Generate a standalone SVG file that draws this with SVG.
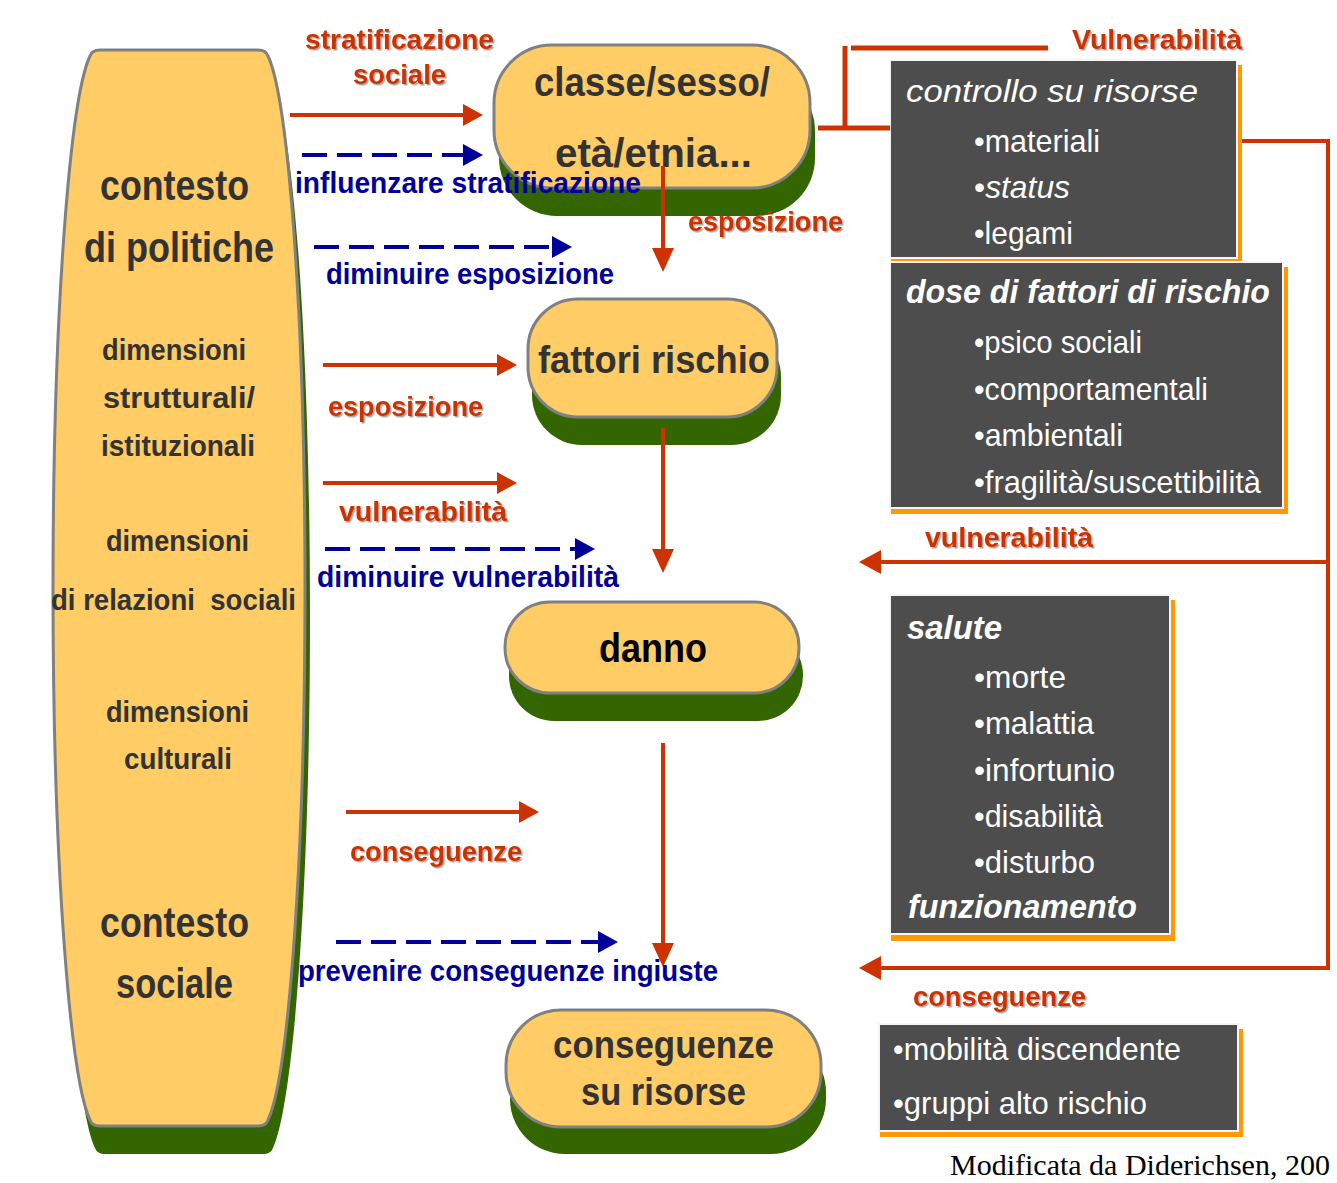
<svg xmlns="http://www.w3.org/2000/svg" width="1337" height="1183" viewBox="0 0 1337 1183">
<style>
text{font-family:"Liberation Sans",Arial,sans-serif}
.nt{font-weight:bold;fill:#333333}
.rl{font-weight:bold;fill:#CC3300;font-size:28px;filter:url(#sh)}
.bl{font-weight:bold;fill:#000099;font-size:29px}
.bx{fill:#ffffff;font-size:32px}
.bh{fill:#ffffff;font-size:33px;font-weight:bold;font-style:italic}
.node{fill:#FFCC66;stroke:#808080;stroke-width:3}
.shd{fill:#336600}
.rline{stroke:#CC3300;stroke-width:4;fill:none}
.bline{stroke:#000099;stroke-width:4;fill:none;stroke-dasharray:25 10}
.brk{stroke:#CC3300;stroke-width:5;fill:none}
.dark{fill:#4d4d4d}
.lite{fill:#f4f4f4}
.org{fill:#FF9900}
</style>
<defs>
<filter id="sh" x="-5%" y="-20%" width="115%" height="150%">
<feDropShadow dx="1.5" dy="1.5" stdDeviation="0.6" flood-color="#000" flood-opacity="0.35"/>
</filter>
<marker id="ar" markerUnits="userSpaceOnUse" markerWidth="20" markerHeight="22" refX="2" refY="11" orient="auto"><path d="M0,0 L20,11 L0,22 Z" fill="#CC3300"/></marker>
<marker id="ab" markerUnits="userSpaceOnUse" markerWidth="20" markerHeight="22" refX="2" refY="11" orient="auto"><path d="M0,0 L20,11 L0,22 Z" fill="#000099"/></marker>
<marker id="av" markerUnits="userSpaceOnUse" markerWidth="24" markerHeight="22" refX="2" refY="11" orient="auto"><path d="M0,0 L24,11 L0,22 Z" fill="#CC3300"/></marker>
<marker id="al" markerUnits="userSpaceOnUse" markerWidth="22" markerHeight="24" refX="2" refY="12" orient="auto"><path d="M0,0 L22,12 L0,24 Z" fill="#CC3300"/></marker>
</defs>
<rect width="1337" height="1183" fill="#ffffff"/>

<g id="contesto">
<path class="shd" transform="translate(5,28)" d="M 100,50 L 258,50 Q 266,50 268,56 C 287,96 305,300 305,588 C 305,876 287,1080 268,1120 Q 266,1126 258,1126 L 100,1126 Q 92,1126 90,1120 C 71,1080 53,876 53,588 C 53,300 71,96 90,56 Q 92,50 100,50 Z"/>
<path class="node" d="M 100,50 L 258,50 Q 266,50 268,56 C 287,96 305,300 305,588 C 305,876 287,1080 268,1120 Q 266,1126 258,1126 L 100,1126 Q 92,1126 90,1120 C 71,1080 53,876 53,588 C 53,300 71,96 90,56 Q 92,50 100,50 Z"/>
<text class="nt" x="100" y="200" font-size="42" textLength="149" lengthAdjust="spacingAndGlyphs">contesto</text>
<text class="nt" x="84" y="262" font-size="42" textLength="190" lengthAdjust="spacingAndGlyphs">di politiche</text>
<text class="nt" x="102" y="360" font-size="29" textLength="144" lengthAdjust="spacingAndGlyphs">dimensioni</text>
<text class="nt" x="103" y="408" font-size="29" textLength="152" lengthAdjust="spacingAndGlyphs">strutturali/</text>
<text class="nt" x="101" y="456" font-size="29" textLength="154" lengthAdjust="spacingAndGlyphs">istituzionali</text>
<text class="nt" x="106" y="551" font-size="29" textLength="143" lengthAdjust="spacingAndGlyphs">dimensioni</text>
<text class="nt" x="51" y="610" font-size="29" textLength="245" lengthAdjust="spacingAndGlyphs" xml:space="preserve">di relazioni  sociali</text>
<text class="nt" x="106" y="722" font-size="29" textLength="143" lengthAdjust="spacingAndGlyphs">dimensioni</text>
<text class="nt" x="124" y="769" font-size="29" textLength="108" lengthAdjust="spacingAndGlyphs">culturali</text>
<text class="nt" x="100" y="937" font-size="42" textLength="149" lengthAdjust="spacingAndGlyphs">contesto</text>
<text class="nt" x="116" y="998" font-size="42" textLength="117" lengthAdjust="spacingAndGlyphs">sociale</text>
</g>

<g id="classe">
<rect class="shd" x="499" y="73" width="316" height="143" rx="58"/>
<rect class="node" x="494" y="45" width="316" height="143" rx="58"/>
<text class="nt" x="534" y="96" font-size="40" textLength="236" lengthAdjust="spacingAndGlyphs">classe/sesso/</text>
<text class="nt" x="555" y="167" font-size="40" textLength="197" lengthAdjust="spacingAndGlyphs">età/etnia...</text>
</g>

<g id="fattori">
<rect class="shd" x="532" y="327" width="249" height="118" rx="50"/>
<rect class="node" x="528" y="299" width="249" height="118" rx="50"/>
<text class="nt" x="538" y="373" font-size="38" textLength="232" lengthAdjust="spacingAndGlyphs">fattori rischio</text>
</g>

<g id="danno">
<rect class="shd" x="509" y="630" width="294" height="91" rx="45"/>
<rect class="node" x="505" y="602" width="294" height="91" rx="45"/>
<text class="nt" x="599" y="662" font-size="40" textLength="108" lengthAdjust="spacingAndGlyphs" style="fill:#000">danno</text>
</g>

<g id="conseguenze">
<rect class="shd" x="510" y="1037" width="316" height="117" rx="55"/>
<rect class="node" x="506" y="1010" width="315" height="117" rx="55"/>
<text class="nt" x="553" y="1058" font-size="38" textLength="221" lengthAdjust="spacingAndGlyphs">conseguenze</text>
<text class="nt" x="581" y="1105" font-size="38" textLength="165" lengthAdjust="spacingAndGlyphs">su risorse</text>
</g>

<g id="box-controllo">
<rect class="org" x="891" y="65" width="351" height="200"/>
<rect class="lite" x="889" y="59" width="349" height="200"/>
<rect class="dark" x="891" y="61" width="345" height="196"/>
<text class="bx" x="906" y="102" textLength="292" lengthAdjust="spacingAndGlyphs" style="font-style:italic">controllo su risorse</text>
<text class="bx" x="974" y="152" textLength="126" lengthAdjust="spacingAndGlyphs">•materiali</text>
<text class="bx" x="974" y="198" textLength="96" lengthAdjust="spacingAndGlyphs">•<tspan style="font-style:italic">status</tspan></text>
<text class="bx" x="974" y="244" textLength="99" lengthAdjust="spacingAndGlyphs">•legami</text>
</g>

<g id="box-dose">
<rect class="org" x="891" y="267" width="397" height="247"/>
<rect class="lite" x="889" y="261" width="395" height="248"/>
<rect class="dark" x="891" y="263" width="391" height="244"/>
<text class="bh" x="906" y="303" textLength="364" lengthAdjust="spacingAndGlyphs">dose di fattori di rischio</text>
<text class="bx" x="974" y="353" textLength="168" lengthAdjust="spacingAndGlyphs">•psico sociali</text>
<text class="bx" x="974" y="400" textLength="234" lengthAdjust="spacingAndGlyphs">•comportamentali</text>
<text class="bx" x="974" y="446" textLength="149" lengthAdjust="spacingAndGlyphs">•ambientali</text>
<text class="bx" x="974" y="493" textLength="287" lengthAdjust="spacingAndGlyphs">•fragilità/suscettibilità</text>
</g>

<g id="box-salute">
<rect class="org" x="891" y="600" width="284" height="341"/>
<rect class="lite" x="889" y="594" width="282" height="341"/>
<rect class="dark" x="891" y="596" width="278" height="337"/>
<text class="bh" x="907" y="639" textLength="95" lengthAdjust="spacingAndGlyphs">salute</text>
<text class="bx" x="974" y="688" textLength="92" lengthAdjust="spacingAndGlyphs">•morte</text>
<text class="bx" x="974" y="734" textLength="120" lengthAdjust="spacingAndGlyphs">•malattia</text>
<text class="bx" x="974" y="781" textLength="141" lengthAdjust="spacingAndGlyphs">•infortunio</text>
<text class="bx" x="974" y="827" textLength="129" lengthAdjust="spacingAndGlyphs">•disabilità</text>
<text class="bx" x="974" y="873" textLength="121" lengthAdjust="spacingAndGlyphs">•disturbo</text>
<text class="bh" x="908" y="918" textLength="229" lengthAdjust="spacingAndGlyphs">funzionamento</text>
</g>

<g id="box-conseguenze">
<rect class="org" x="880" y="1029" width="363" height="108"/>
<rect class="lite" x="878" y="1023" width="361" height="109"/>
<rect class="dark" x="880" y="1025" width="357" height="105"/>
<text class="bx" x="893" y="1060" textLength="288" lengthAdjust="spacingAndGlyphs">•mobilità discendente</text>
<text class="bx" x="893" y="1114" textLength="254" lengthAdjust="spacingAndGlyphs">•gruppi alto rischio</text>
</g>

<g id="connectors">
<line class="rline" x1="290" y1="115" x2="465" y2="115" marker-end="url(#ar)"/>
<line class="rline" x1="323" y1="365" x2="499" y2="365" marker-end="url(#ar)"/>
<line class="rline" x1="323" y1="483" x2="499" y2="483" marker-end="url(#ar)"/>
<line class="rline" x1="346" y1="812" x2="521" y2="812" marker-end="url(#ar)"/>
<line class="bline" x1="302" y1="155" x2="465" y2="155" marker-end="url(#ab)"/>
<line class="bline" x1="314" y1="247" x2="554" y2="247" marker-end="url(#ab)"/>
<line class="bline" x1="325" y1="549" x2="577" y2="549" marker-end="url(#ab)"/>
<line class="bline" x1="336" y1="942" x2="600" y2="942" marker-end="url(#ab)"/>
<line class="rline" x1="663" y1="166" x2="663" y2="250" marker-end="url(#av)"/>
<line class="rline" x1="663" y1="428" x2="663" y2="551" marker-end="url(#av)"/>
<line class="rline" x1="663" y1="743" x2="663" y2="945" marker-end="url(#av)"/>
<line class="brk" x1="818" y1="128" x2="890" y2="128"/>
<line class="brk" x1="845" y1="46" x2="845" y2="130"/>
<line class="brk" x1="851" y1="48" x2="1048" y2="48"/>
<path class="rline" d="M 1242,141 H 1328 V 968 H 879" marker-end="url(#al)"/>
<line class="rline" x1="1328" y1="562" x2="879" y2="562" marker-end="url(#al)"/>
</g>

<g id="labels">
<text class="rl" x="305" y="49" textLength="189" lengthAdjust="spacingAndGlyphs">stratificazione</text>
<text class="rl" x="353" y="84" textLength="93" lengthAdjust="spacingAndGlyphs">sociale</text>
<text class="rl" x="1072" y="49" textLength="170" lengthAdjust="spacingAndGlyphs">Vulnerabilità</text>
<text class="rl" x="688" y="231" textLength="155" lengthAdjust="spacingAndGlyphs">esposizione</text>
<text class="rl" x="328" y="416" textLength="155" lengthAdjust="spacingAndGlyphs">esposizione</text>
<text class="rl" x="339" y="521" textLength="168" lengthAdjust="spacingAndGlyphs">vulnerabilità</text>
<text class="rl" x="925" y="547" textLength="168" lengthAdjust="spacingAndGlyphs">vulnerabilità</text>
<text class="rl" x="350" y="861" textLength="172" lengthAdjust="spacingAndGlyphs">conseguenze</text>
<text class="rl" x="913" y="1006" textLength="173" lengthAdjust="spacingAndGlyphs">conseguenze</text>
<text class="bl" x="295" y="193" textLength="346" lengthAdjust="spacingAndGlyphs">influenzare stratificazione</text>
<text class="bl" x="326" y="284" textLength="288" lengthAdjust="spacingAndGlyphs">diminuire esposizione</text>
<text class="bl" x="317" y="587" textLength="302" lengthAdjust="spacingAndGlyphs">diminuire vulnerabilità</text>
<text class="bl" x="298" y="981" textLength="420" lengthAdjust="spacingAndGlyphs">prevenire conseguenze ingiuste</text>
<text x="950" y="1175" font-size="30" style="font-family:'Liberation Serif','Times New Roman',serif;fill:#000">Modificata da Diderichsen, 200</text>
</g>
</svg>
